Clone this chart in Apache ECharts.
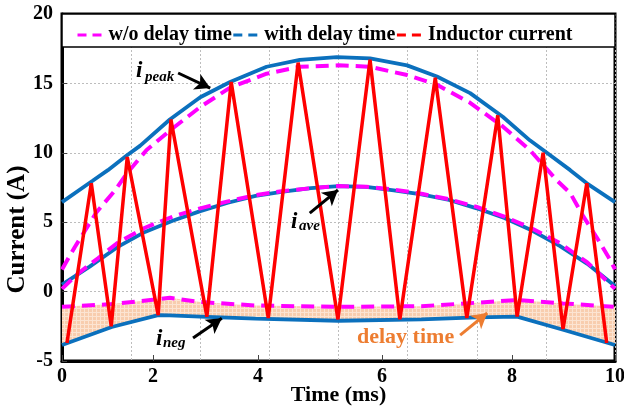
<!DOCTYPE html>
<html>
<head>
<meta charset="utf-8">
<script src="https://cdn.jsdelivr.net/npm/echarts@6/dist/echarts.min.js"></script>
<style>
  html, body { margin: 0; padding: 0; background: #fff; }
  #chart { width: 624px; height: 407px; }
</style>
</head>
<body>
<div id="chart"></div>
<script>
// Time axis labels, at the spots where the original figure puts them
const xTickLabels = ['0', '2', '4', '6', '8', '10']
const xTickPos = [0, 1.646, 3.544, 5.787, 8.137, 10]

// w/o delay time (magenta dashed)
const woPeakT = [0, 0.23, 0.62, 0.96, 1.19, 1.53, 1.95, 2.5, 3.04, 3.7, 4.3, 5.0, 5.57, 6.24, 6.78, 7.38, 7.97, 8.46, 8.95, 9.19, 9.43, 9.67, 9.91, 10]
const woPeakV = [1.6, 3.2, 5.7, 7.3, 8.6, 10.2, 11.6, 13.3, 14.7, 15.7, 16.2, 16.3, 16.2, 15.6, 14.9, 13.6, 11.9, 10.2, 8.0, 7.1, 5.4, 3.9, 2.3, 1.6]
const woAveT = [0, 0.29, 0.65, 1.0, 1.5, 2.0, 2.5, 3.0, 3.5, 4.0, 4.5, 5.0, 5.5, 6.0, 6.5, 7.0, 7.5, 8.0, 8.5, 9.0, 9.5, 10]
const woAveV = [0.2, 1.3, 2.4, 3.5, 4.6, 5.4, 6.0, 6.5, 6.95, 7.25, 7.45, 7.6, 7.55, 7.35, 7.05, 6.65, 6.1, 5.4, 4.55, 3.5, 2.1, 0.2]

// with delay time (blue)
const wPeakT = [0, 0.56, 0.83, 1.17, 1.41, 1.95, 2.5, 3.04, 3.7, 4.3, 4.97, 5.57, 6.24, 6.78, 7.38, 7.97, 8.46, 8.7, 9.19, 9.49, 10]
const wPeakV = [6.45, 8.0, 8.75, 9.8, 10.5, 12.4, 14.0, 15.1, 16.2, 16.7, 16.9, 16.8, 16.3, 15.5, 14.3, 12.6, 10.9, 10.2, 8.75, 7.8, 6.45]
const wAveT = [0, 0.5, 1.0, 1.5, 2.0, 2.5, 3.0, 3.5, 4.0, 4.5, 5.0, 5.5, 6.0, 6.5, 7.0, 7.5, 8.0, 8.5, 9.0, 9.5, 10]
const wAveV = [0.5, 1.8, 3.2, 4.3, 5.1, 5.8, 6.4, 6.9, 7.2, 7.45, 7.6, 7.55, 7.3, 7.0, 6.6, 6.0, 5.3, 4.4, 3.3, 2.0, 0.4]

// negative current bounds, read at the same instants (the shaded band lies between them)
const negT = [0, 0.9, 1.74, 1.95, 2.5, 3.5, 5.0, 6.5, 7.5, 8.23, 9.06, 10]
const woNegV = [-1.1, -0.9, -0.55, -0.45, -0.75, -1.0, -1.1, -1.05, -0.8, -0.6, -0.85, -1.1]
const wNegV = [-3.85, -2.55, -1.7, -1.72, -1.8, -1.95, -2.1, -2.0, -1.85, -1.8, -2.75, -3.85]

// inductor current vertices
const iLT = [0.09, 0.53, 0.89, 1.18, 1.74, 1.97, 2.62, 3.06, 3.73, 4.27, 4.99, 5.57, 6.11, 6.75, 7.32, 7.88, 8.23, 8.70, 9.06, 9.49, 9.85]
const iLV = [-3.7, 7.8, -2.5, 9.7, -1.7, 12.4, -1.8, 15.1, -1.9, 16.5, -2.0, 16.7, -2.0, 15.4, -1.9, 12.7, -1.8, 10.0, -2.7, 7.8, -3.7]

const FONT = '"Liberation Serif", "Times New Roman", serif'
const MAGENTA = '#FF00FF'
const BLUE = '#0B70BD'
const RED = '#FF0000'
const ORANGE = '#ED7D31'

const zip = (t, v) => t.map((x, i) => [x, v[i]])

// light orange fill with a fine grid texture
const makeHatch = () => {
  const c = document.createElement('canvas')
  c.width = 4
  c.height = 4
  const g = c.getContext('2d')
  g.fillStyle = '#F8CDAE'
  g.fillRect(0, 0, 4, 4)
  g.fillStyle = '#FCE4D2'
  g.fillRect(0, 0, 4, 1)
  g.fillRect(0, 0, 1, 4)
  return c
}
const hatch = makeHatch()

const magentaLine = (name, t, v) => ({
  name, type: 'line', data: zip(t, v), symbol: 'none', z: 3,
  lineStyle: { color: MAGENTA, width: 4, type: [13, 7] },
  itemStyle: { color: MAGENTA },
})
const blueLine = (name, t, v) => ({
  name, type: 'line', data: zip(t, v), symbol: 'none', z: 2,
  lineStyle: { color: BLUE, width: 3.8 },
  itemStyle: { color: BLUE },
})

const chart = echarts.init(document.getElementById('chart'))

const option = {
  animation: false,
  backgroundColor: '#fff',
  grid: {
    left: 62, right: 9, top: 14, bottom: 46, outerBoundsMode: 'none',
    show: true, borderColor: '#000', borderWidth: 3,
  },
  legend: {
    data: [
      { name: 'w/o delay time' },
      { name: 'with delay time' },
      { name: 'Inductor current' },
    ],
    left: 71, top: 20, itemWidth: 26, itemHeight: 14, itemGap: 0,
    selectedMode: false, z: 10,
    lineStyle: { width: 3, type: [9, 6] },
    itemStyle: { opacity: 0 },
    textStyle: { fontFamily: FONT, fontWeight: 'bold', fontSize: 20, color: '#000' },
  },
  xAxis: [
    {
      type: 'value', min: 0, max: 10,
      name: 'Time (ms)', nameLocation: 'middle', nameGap: 23, nameMoveOverlap: false,
      nameTextStyle: { fontFamily: FONT, fontWeight: 'bold', fontSize: 22, color: '#000' },
      axisLine: { onZero: false, lineStyle: { color: '#000', width: 3 } },
      axisTick: { inside: true, length: 6, customValues: xTickPos, lineStyle: { color: '#444', width: 1 } },
      axisLabel: {
        customValues: xTickPos, margin: 6,
        fontFamily: FONT, fontWeight: 'bold', fontSize: 20, color: '#000',
        formatter: (v) => {
          const i = xTickPos.findIndex((p) => Math.abs(p - v) < 1e-6)
          return i >= 0 ? xTickLabels[i] : ''
        },
      },
      splitLine: { show: false },
    },
    {
      // only draws the dotted vertical grid
      type: 'value', min: 0, max: 10, interval: 1.25, position: 'bottom',
      axisLine: { show: false, onZero: false }, axisTick: { show: false }, axisLabel: { show: false },
      splitLine: { show: true, lineStyle: { color: '#BDBDBD', type: [2, 2], width: 1 } },
    },
  ],
  yAxis: {
    type: 'value', min: -5, max: 20, interval: 5,
    name: 'Current (A)', nameLocation: 'middle', nameGap: 32, nameMoveOverlap: false,
    nameTextStyle: { fontFamily: FONT, fontWeight: 'bold', fontSize: 25, color: '#000', padding: [0, 84, 0, 0] },
    axisLine: { show: true, onZero: false, lineStyle: { color: '#000', width: 3 } },
    axisTick: { show: true, inside: true, length: 5, lineStyle: { color: '#444' } },
    axisLabel: { margin: 9, fontFamily: FONT, fontWeight: 'bold', fontSize: 20, color: '#000' },
    splitLine: { show: true, lineStyle: { color: '#BDBDBD', type: [2, 2], width: 1 } },
  },
  series: [
    {
      name: 'delay band', type: 'custom', z: 1, silent: true,
      data: [[0, 0]],
      renderItem: (params, api) => {
        const top = negT.map((t, i) => api.coord([t, woNegV[i]]))
        const bottom = negT.map((t, i) => api.coord([t, wNegV[i]])).reverse()
        return {
          type: 'polygon',
          shape: { points: top.concat(bottom) },
          style: { fill: { image: hatch, repeat: 'repeat' } },
        }
      },
    },
    blueLine('with delay time', wPeakT, wPeakV),
    blueLine('with delay time', wAveT, wAveV),
    blueLine('with delay time', negT, wNegV),
    magentaLine('w/o delay time', woPeakT, woPeakV),
    magentaLine('w/o delay time', woAveT, woAveV),
    magentaLine('w/o delay time', negT, woNegV),
    {
      name: 'Inductor current', type: 'line', data: zip(iLT, iLV), symbol: 'none', z: 4,
      lineStyle: { color: RED, width: 3.5 }, itemStyle: { color: RED },
    },
    {
      name: 'arrows', type: 'line', data: [], z: 6,
      markLine: {
        silent: true, animation: false,
        symbol: ['none', 'arrow'], symbolSize: [13, 15],
        label: { show: false },
        lineStyle: { color: '#000', width: 3, type: 'solid' },
        data: [
          [{ coord: [2.10, 15.75] }, { coord: [2.68, 14.66] }],
          [{ coord: [4.48, 5.66] }, { coord: [4.99, 7.32] }],
          [{ coord: [2.37, -3.35] }, { coord: [2.89, -1.92] }],
          [{ coord: [7.2, -3.13], lineStyle: { color: ORANGE } }, { coord: [7.69, -1.54] }],
        ],
      },
    },
  ],
  graphic: [
    {
      type: 'rect', z: 5, silent: true,
      shape: { x: 62, y: 14, width: 553, height: 33 },
      style: { fill: '#fff', stroke: '#000', lineWidth: 1.5 },
    },
    { type: 'text', z: 7, left: 136, top: 60, style: { text: 'i', font: 'italic bold 23px ' + FONT, fill: '#000' } },
    { type: 'text', z: 7, left: 145, top: 70, style: { text: 'peak', font: 'italic bold 15px ' + FONT, fill: '#000' } },
    { type: 'text', z: 7, left: 291, top: 211, style: { text: 'i', font: 'italic bold 23px ' + FONT, fill: '#000' } },
    { type: 'text', z: 7, left: 299, top: 219, style: { text: 'ave', font: 'italic bold 15px ' + FONT, fill: '#000' } },
    { type: 'text', z: 7, left: 156, top: 328, style: { text: 'i', font: 'italic bold 23px ' + FONT, fill: '#000' } },
    { type: 'text', z: 7, left: 163, top: 336, style: { text: 'neg', font: 'italic bold 15px ' + FONT, fill: '#000' } },
    { type: 'text', z: 7, left: 357, top: 326, style: { text: 'delay time', font: 'bold 22px ' + FONT, fill: ORANGE } },
  ],
}

chart.setOption(option)
</script>
</body>
</html>
